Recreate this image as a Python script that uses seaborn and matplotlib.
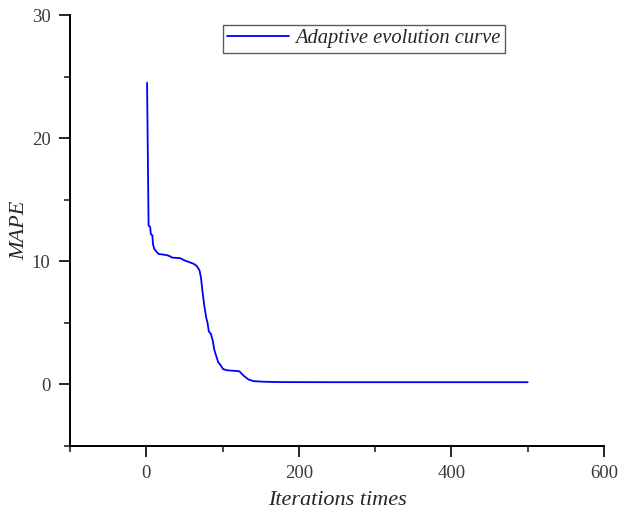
import matplotlib
matplotlib.use("Agg")
import matplotlib.pyplot as plt
import seaborn as sns
import pandas as pd
from matplotlib.ticker import MultipleLocator

iterations = [1, 3, 5, 6, 8, 8.7, 10.5, 13, 16, 27, 31.4, 33.6, 44.5, 51, 62, 66.4,
              69.8, 71.6, 73.3, 76, 78.6, 80.3, 82, 84.7, 87.3, 89, 91.7, 94.3, 97,
              100.5, 105.7, 122, 127.4, 134, 140.5, 153.6, 175.5, 250, 350, 500]
mape = [24.5, 12.9, 12.8, 12.2, 12.1, 11.4, 11.0, 10.8, 10.6, 10.5, 10.4, 10.3, 10.25,
        10.05, 9.8, 9.6, 9.25, 8.7, 7.75, 6.4, 5.4, 5.0, 4.3, 4.1, 3.5, 2.85, 2.3,
        1.8, 1.6, 1.25, 1.15, 1.07, 0.72, 0.4, 0.27, 0.22, 0.19, 0.18, 0.18, 0.18]
series_name = "Adaptive evolution curve"

df = pd.DataFrame({"Iterations times": iterations, "MAPE": mape,
                   "series": series_name})

sns.set_style("ticks")
plt.rcParams["font.family"] = ["Liberation Serif", "DejaVu Serif"]

fig = plt.figure(figsize=(6.18, 5.12), dpi=100)
ax = fig.add_axes([0.1133, 0.1289, 0.864, 0.8418])

sns.lineplot(data=df, x="Iterations times", y="MAPE", hue="series",
             palette=["#0000ff"], linewidth=1.3, ax=ax)

ax.set_xlim(-100, 600)
ax.set_ylim(-5, 30)
ax.xaxis.set_minor_locator(MultipleLocator(100))
ax.yaxis.set_major_locator(MultipleLocator(10))
ax.yaxis.set_minor_locator(MultipleLocator(5))
ax.set_xticks([0, 200, 400, 600])
ax.set_xticklabels(["0", "200", "400", "600"])

for s in ["top", "right"]:
    ax.spines[s].set_visible(False)
for s in ["left", "bottom"]:
    ax.spines[s].set_linewidth(1.4)
    ax.spines[s].set_color("black")

ax.tick_params(which="major", direction="out", length=8, width=1.4,
               labelsize=13.5, labelcolor="#3a3a3a", pad=6)
ax.tick_params(which="minor", direction="out", length=4, width=1.2)

ax.set_xlabel("Iterations times", fontsize=16, style="italic", labelpad=6)
ax.set_ylabel("MAPE", fontsize=16, style="italic", labelpad=2)

leg = ax.legend(loc="upper left", bbox_to_anchor=(0.287, 0.977),
                prop={"style": "italic", "size": 14.8}, frameon=True, fancybox=False,
                handlelength=3.0, handletextpad=0.3, borderpad=0.2,
                borderaxespad=0)
leg.get_frame().set_edgecolor("#333333")
leg.get_frame().set_linewidth(1.0)
for line in leg.get_lines():
    line.set_linewidth(1.3)

fig.savefig("out.png", dpi=100)
